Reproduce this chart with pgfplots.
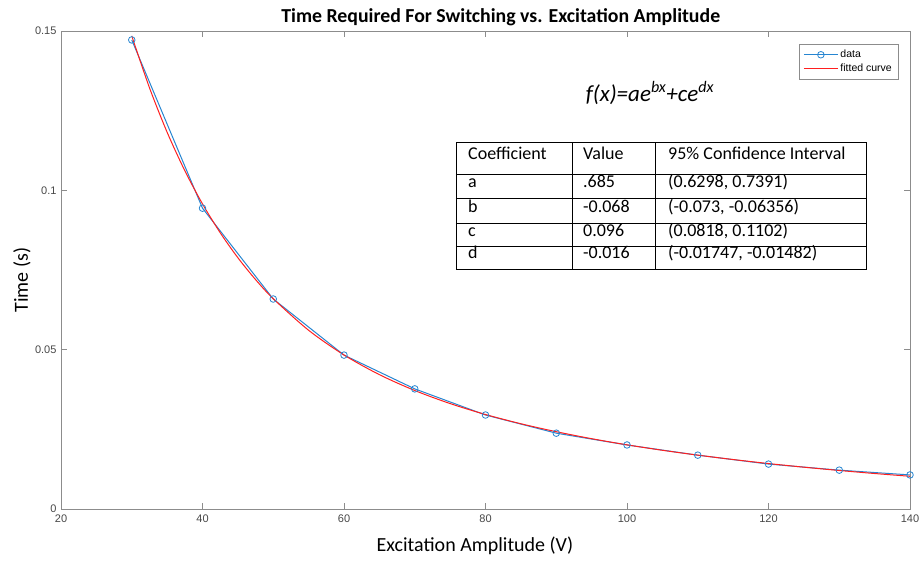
\documentclass[border=0pt]{standalone}
\usepackage{fontspec}
\setmainfont{Carlito}
\newfontfamily\helv{Liberation Sans}
\usepackage{pgfplots}
\pgfplotsset{compat=1.18}
\definecolor{mblue}{rgb}{0.15,0.52,0.82}
\definecolor{mred}{rgb}{1,0.12,0.12}
\definecolor{axgray}{gray}{0.55}
\tikzset{cell/.style={anchor=west, inner sep=0pt, yshift=1pt, text height=0.72em, text depth=0.22em, font=\fontsize{18}{21}\selectfont}}
\begin{document}
\begin{tikzpicture}
\begin{axis}[
  scale only axis, width=849pt, height=478pt,
  xmin=20, xmax=140, ymin=0, ymax=0.15,
  xtick={20,40,60,80,100,120,140},
  xticklabels={20,40,60,80,100,120,140},
  ytick={0,0.05,0.1,0.15},
  yticklabels={0,0.05,0.1,0.15},
  tick align=inside,
  major tick length=6pt,
  axis line style={axgray, line width=1pt},
  every tick/.style={axgray, line width=0.8pt},
  ticklabel style={font=\helv\fontsize{11}{13}\selectfont, text=black!72},
  xticklabel style={yshift=-2pt},
  yticklabel style={xshift=-1pt},
  /pgf/number format/assume math mode=true,
  title={Time Required For Switching vs. Excitation Amplitude},
  title style={at={(axis description cs:0.518,1.017)}, anchor=center, font=\bfseries\fontsize{19.8}{23}\selectfont},
  xlabel={Excitation Amplitude (V)},
  xlabel style={at={(axis description cs:0.4876,-0.077)}, anchor=center, font=\fontsize{20}{23}\selectfont},
  ylabel={Time (s)},
  ylabel style={at={(axis description cs:-0.0459,0.479)}, anchor=center, font=\fontsize{20}{23}\selectfont},
  legend style={at={(axis description cs:0.986,0.973)}, anchor=north east, draw=axgray, line width=0.6pt,
    font=\helv\fontsize{10.5}{12.5}\selectfont, inner xsep=4pt, inner ysep=4pt, row sep=1pt},
  legend cell align=left,
]
\addlegendimage{color=mblue, line width=1pt, mark=o, mark size=3.3pt, mark options={line width=0.8pt},
  legend image code/.code={\draw[mark repeat=2,mark phase=2,##1] plot coordinates {(0cm,0cm) (0.6cm,0cm) (1.2cm,0cm)};}}
\addlegendentry{data}
\addlegendimage{color=mred, line width=1pt,
  legend image code/.code={\draw[color=mred, line width=1pt] (0cm,0cm) -- (1.2cm,0cm);}}
\addlegendentry{fitted curve}
\addplot[color=mblue, line width=1pt, mark=o, mark size=3.3pt, mark options={line width=0.8pt}, forget plot] coordinates {
 (30,0.1472) (40,0.0944) (50,0.0659) (60,0.0483) (70,0.0377) (80,0.0295)
 (90,0.0238) (100,0.0201) (110,0.0169) (120,0.0141) (130,0.0122) (140,0.0107)
};
\addplot[color=mred, line width=1pt, smooth, no marks, forget plot] coordinates {
 (30,0.14847) (32.5,0.13222) (35,0.11823) (37.5,0.10617) (40,0.09574) (42.5,0.08671)
 (45,0.07885) (47.5,0.07200) (50,0.06600) (55,0.05609) (60,0.04834) (65,0.04217)
 (70,0.03719) (75,0.03309) (80,0.02966) (85,0.02676) (90,0.02426) (95,0.02207)
 (100,0.02014) (105,0.01843) (110,0.01691) (115,0.01553) (120,0.01427) (125,0.01313)
 (130,0.01209) (135,0.01114) (140,0.01027)
};
% formula
\node[anchor=center, font=\itshape\fontsize{23}{26}\selectfont] at (axis description cs:0.6937,0.870)
  {f(x)=ae\textsuperscript{bx}+ce\textsuperscript{dx}};
% table
\fill[white] (axis description cs:0.4652,0.7678) rectangle (axis description cs:0.9482,0.5021);
\draw[black, line width=0.9pt] (axis description cs:0.4652,0.7678) rectangle (axis description cs:0.9482,0.5021);
\draw[black, line width=0.9pt] (axis description cs:0.4652,0.7008) -- (axis description cs:0.9482,0.7008);
\draw[black, line width=0.9pt] (axis description cs:0.4652,0.6506) -- (axis description cs:0.9482,0.6506);
\draw[black, line width=0.9pt] (axis description cs:0.4652,0.5983) -- (axis description cs:0.9482,0.5983);
\draw[black, line width=0.9pt] (axis description cs:0.4652,0.5502) -- (axis description cs:0.9482,0.5502);
\draw[black, line width=0.9pt] (axis description cs:0.6019,0.7678) -- (axis description cs:0.6019,0.5021);
\draw[black, line width=0.9pt] (axis description cs:0.6996,0.7678) -- (axis description cs:0.6996,0.5021);
\node[cell] at (axis description cs:0.4794,0.7343) {Coefficient};
\node[cell] at (axis description cs:0.6148,0.7343) {Value};
\node[cell] at (axis description cs:0.7150,0.7343) {95\% Confidence Interval};
\node[cell] at (axis description cs:0.4794,0.6757) {a};
\node[cell] at (axis description cs:0.6148,0.6757) {.685};
\node[cell] at (axis description cs:0.7150,0.6757) {(0.6298, 0.7391)};
\node[cell] at (axis description cs:0.4794,0.6245) {b};
\node[cell] at (axis description cs:0.6148,0.6245) {-0.068};
\node[cell] at (axis description cs:0.7150,0.6245) {(-0.073, -0.06356)};
\node[cell] at (axis description cs:0.4794,0.5743) {c};
\node[cell] at (axis description cs:0.6148,0.5743) {0.096};
\node[cell] at (axis description cs:0.7150,0.5743) {(0.0818, 0.1102)};
\node[cell] at (axis description cs:0.4794,0.5262) {d};
\node[cell] at (axis description cs:0.6148,0.5262) {-0.016};
\node[cell] at (axis description cs:0.7150,0.5262) {(-0.01747, -0.01482)};
\coordinate (bbl) at (axis description cs:-0.07185,-0.1067);
\coordinate (btr) at (axis description cs:1.0106,1.0649);
\end{axis}
\pgfresetboundingbox
\path (bbl) rectangle (btr);
\end{tikzpicture}
\end{document}
